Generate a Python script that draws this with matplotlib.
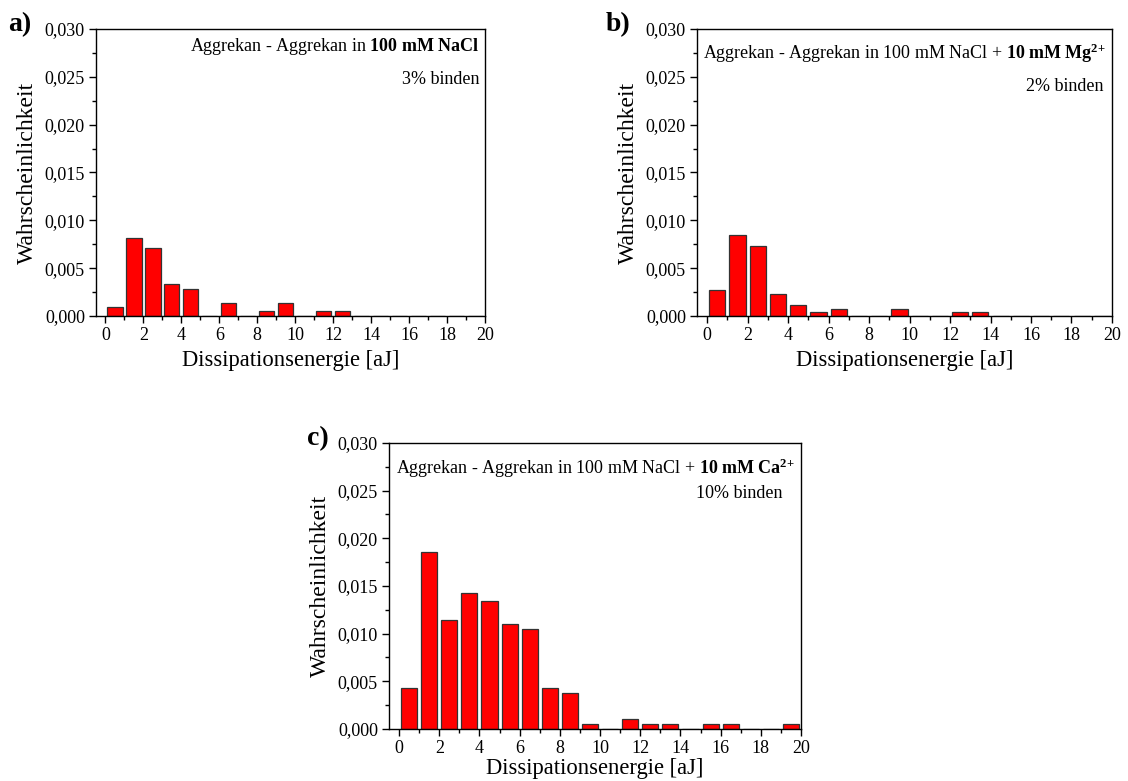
import numpy as np
import matplotlib
matplotlib.use('Agg')
import matplotlib.pyplot as plt
from matplotlib.ticker import FuncFormatter, MultipleLocator

plt.rcParams['font.family'] = 'Liberation Serif'
plt.rcParams['mathtext.fontset'] = 'custom'
plt.rcParams['mathtext.rm'] = 'Liberation Serif'
plt.rcParams['mathtext.bf'] = 'Liberation Serif:bold'
plt.rcParams['mathtext.it'] = 'Liberation Serif:italic'

# Klassenmitten der Histogramme (Breite 1 aJ)
bins = np.arange(20) + 0.5

# Wahrscheinlichkeiten je Klasse
p_nacl = [0.0009, 0.0081, 0.00715, 0.0033, 0.0028, 0, 0.0014, 0, 0.0005, 0.0014,
          0, 0.0005, 0.0005, 0, 0, 0, 0, 0, 0, 0]
p_mg = [0.0027, 0.0085, 0.0073, 0.0023, 0.00115, 0.0004, 0.0007, 0, 0, 0.0007,
        0, 0, 0.0004, 0.0004, 0, 0, 0, 0, 0, 0]
p_ca = [0.0043, 0.0186, 0.01145, 0.0143, 0.0134, 0.011, 0.0105, 0.0043, 0.0038, 0.0005,
        0, 0.001, 0.0005, 0.0005, 0, 0.0005, 0.0005, 0, 0, 0.0005]

labels = ['a)', 'b)', 'c)']
titles = [r'Aggrekan - Aggrekan in $\mathbf{100\ mM\ NaCl}$',
          r'Aggrekan - Aggrekan in 100 mM NaCl + $\mathbf{10\ mM\ Mg^{2{+}}}$',
          r'Aggrekan - Aggrekan in 100 mM NaCl + $\mathbf{10\ mM\ Ca^{2{+}}}$']
binden = ['3% binden', '2% binden', '10% binden']

fig = plt.figure(figsize=(11.28, 7.81), dpi=100)
positions = [[0.0851, 0.5954, 0.3449, 0.3675],
             [0.6179, 0.5954, 0.3679, 0.3675],
             [0.3449, 0.0666, 0.3652, 0.3662]]
# Lage der Texte (Achsenkoordinaten)
title_y = [0.94, 0.915, 0.91]
binden_xy = [(0.985, 0.825), (0.98, 0.80), (0.955, 0.822)]
label_x = [-0.225, -0.22, -0.2]
xlabel_pad = [4, 4, 0.5]

def komma(v, pos):
    return ('%.3f' % v).replace('.', ',')

for k, data in enumerate([p_nacl, p_mg, p_ca]):
    ax = fig.add_axes(positions[k])
    ax.bar(bins, data, width=0.8, color='#ff0000', edgecolor='#333333', linewidth=0.9)
    ax.set_xlim(-0.5, 20)
    ax.set_ylim(0, 0.030)
    ax.xaxis.set_major_locator(MultipleLocator(2))
    ax.xaxis.set_minor_locator(MultipleLocator(1))
    ax.yaxis.set_major_locator(MultipleLocator(0.005))
    ax.yaxis.set_minor_locator(MultipleLocator(0.0025))
    ax.yaxis.set_major_formatter(FuncFormatter(komma))
    ax.tick_params(which='both', direction='out', top=False, right=False, width=1.0,
                   labelsize=13)
    ax.tick_params(which='major', length=5, pad=3)
    ax.tick_params(which='minor', length=3)
    for s in ax.spines.values():
        s.set_linewidth(1.0)
    ax.set_xlabel('Dissipationsenergie [aJ]', fontsize=16.3, labelpad=xlabel_pad[k])
    ax.set_ylabel('Wahrscheinlichkeit', fontsize=17, labelpad=5)
    ax.text(0.985, title_y[k], titles[k], transform=ax.transAxes, ha='right',
            va='center', fontsize=13)
    ax.text(binden_xy[k][0], binden_xy[k][1], binden[k], transform=ax.transAxes,
            ha='right', va='center', fontsize=13)
    ax.text(label_x[k], 1.015, labels[k], transform=ax.transAxes, ha='left',
            va='center', fontsize=20, fontweight='bold')

fig.savefig('out.png', dpi=100)
